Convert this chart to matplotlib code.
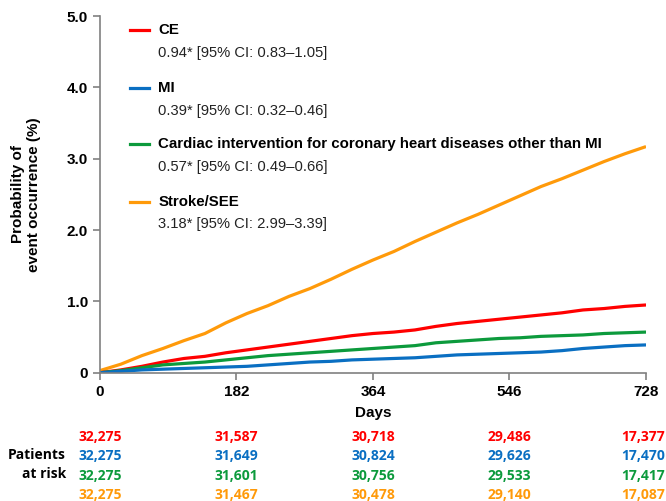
import matplotlib
matplotlib.use("Agg")
import matplotlib.pyplot as plt
from matplotlib.transforms import blended_transform_factory

plt.rcParams["font.family"] = ["Liberation Sans", "DejaVu Sans"]

# cumulative incidence (%)
days = [0, 28, 56, 84, 112, 140, 168, 196, 224, 252, 280, 308, 336, 364,
        392, 420, 448, 476, 504, 532, 560, 588, 616, 644, 672, 700, 728]
ce = [0, 0.04, 0.09, 0.15, 0.20, 0.23, 0.28, 0.32, 0.36, 0.40, 0.44, 0.48, 0.52, 0.55,
      0.57, 0.60, 0.65, 0.69, 0.72, 0.75, 0.78, 0.81, 0.84, 0.88, 0.90, 0.93, 0.95]
mi = [0, 0.02, 0.04, 0.05, 0.06, 0.07, 0.08, 0.09, 0.11, 0.13, 0.15, 0.16, 0.18, 0.19,
      0.20, 0.21, 0.23, 0.25, 0.26, 0.27, 0.28, 0.29, 0.31, 0.34, 0.36, 0.38, 0.39]
cardiac = [0, 0.03, 0.07, 0.11, 0.13, 0.15, 0.18, 0.21, 0.24, 0.26, 0.28, 0.30, 0.32, 0.34,
           0.36, 0.38, 0.42, 0.44, 0.46, 0.48, 0.49, 0.51, 0.52, 0.53, 0.55, 0.56, 0.57]
stroke = [0.03, 0.12, 0.24, 0.34, 0.45, 0.55, 0.70, 0.83, 0.94, 1.07, 1.18, 1.31, 1.45, 1.58,
          1.70, 1.84, 1.97, 2.10, 2.22, 2.35, 2.48, 2.61, 2.72, 2.84, 2.96, 3.07, 3.17]

names = ["CE", "MI", "Cardiac intervention for coronary heart diseases other than MI", "Stroke/SEE"]
estimates = ["0.94* [95% CI: 0.83\u20131.05]", "0.39* [95% CI: 0.32\u20130.46]",
             "0.57* [95% CI: 0.49\u20130.66]", "3.18* [95% CI: 2.99\u20133.39]"]
colors = ["#FF0000", "#0A6FC2", "#0C9A3C", "#FF9A0A"]

risk_days = [0, 182, 364, 546, 728]
at_risk_ce = ["32,275", "31,587", "30,718", "29,486", "17,377"]
at_risk_mi = ["32,275", "31,649", "30,824", "29,626", "17,470"]
at_risk_cardiac = ["32,275", "31,601", "30,756", "29,533", "17,417"]
at_risk_stroke = ["32,275", "31,467", "30,478", "29,140", "17,087"]

fig = plt.figure(figsize=(6.66, 5.01), dpi=100)
ax = fig.add_axes([0.150, 0.256, 0.820, 0.712])

# draw orange first so the others sit on top, as in the reference
for series, c in [(stroke, colors[3]), (ce, colors[0]), (cardiac, colors[2]), (mi, colors[1])]:
    ax.plot(days, series, color=c, linewidth=2.3, solid_capstyle="butt")

ax.set_xlim(0, 728)
ax.set_ylim(0, 5.0)
ax.set_xticks(risk_days)
ax.set_xticklabels([str(d) for d in risk_days], fontsize=11, fontweight="bold")
ax.set_yticks([0, 1, 2, 3, 4, 5])
ax.set_yticklabels(["0", "1.0", "2.0", "3.0", "4.0", "5.0"], fontsize=11, fontweight="bold")
for s in ["top", "right"]:
    ax.spines[s].set_visible(False)
for s in ["left", "bottom"]:
    ax.spines[s].set_color("#808080")
    ax.spines[s].set_linewidth(1.2)
ax.tick_params(colors="#808080", labelcolor="black", length=5, width=1.2)
ax.margins(0)

ax.set_ylabel("Probability of\nevent occurrence (%)", fontsize=11, fontweight="bold")
ax.yaxis.set_label_coords(-0.108, 0.5)

# legend block
leg_y = [4.80, 3.99, 3.20, 2.40]
for name, est, c, y in zip(names, estimates, colors, leg_y):
    ax.plot([40, 66], [y, y], color=c, linewidth=2.3, clip_on=False)
    ax.text(78, y, name, fontsize=10.8, fontweight="bold", va="center", ha="left")
    ax.text(78, y - 0.315, est, fontsize=10.6, va="center", ha="left", color="#222222")

# x label and at-risk table
tr = ax.get_xaxis_transform()
ax.text(364, -0.113, "Days", transform=tr, ha="center", va="center",
        fontsize=11, fontweight="bold")
rows = [at_risk_ce, at_risk_mi, at_risk_cardiac, at_risk_stroke]
row_y = [-0.180, -0.234, -0.290, -0.343]
edge_tr = blended_transform_factory(fig.transFigure, ax.transAxes)
for row, c, y in zip(rows, colors, row_y):
    for d, v in zip(risk_days[:-1], row[:-1]):
        ax.text(d, y, v, transform=tr, ha="center", va="center", color=c,
                fontsize=10, fontweight="bold", family=["Open Sans", "DejaVu Sans"])
    # last column sits against the right edge of the figure
    ax.text(0.998, y, row[-1], transform=edge_tr, ha="right", va="center", color=c,
            fontsize=10, fontweight="bold", family=["Open Sans", "DejaVu Sans"])
fig.text(0.099, 1 - 455 / 501, "Patients", ha="right", va="center",
         fontsize=10, fontweight="bold", family=["Open Sans", "DejaVu Sans"])
fig.text(0.099, 1 - 474 / 501, "at risk", ha="right", va="center",
         fontsize=10, fontweight="bold", family=["Open Sans", "DejaVu Sans"])

fig.savefig("out.png", dpi=100, facecolor="white")
